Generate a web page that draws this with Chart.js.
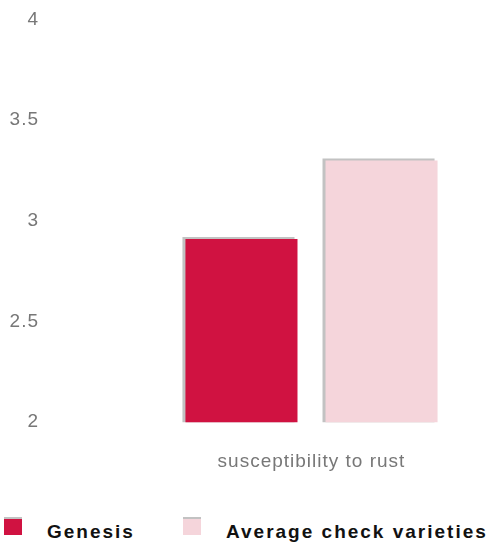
<!DOCTYPE html>
<html>
<head>
<meta charset="utf-8">
<script src="https://cdn.jsdelivr.net/npm/chart.js@4"></script>
<style>
  html, body { margin: 0; padding: 0; background: #fff; }
  #wrap { position: relative; width: 497px; height: 542px; overflow: hidden; }
  #box { position: absolute; left: 0; top: 0; width: 497px; height: 502px; }
  #legend {
    position: absolute; left: 4px; top: 517px;
    display: flex; align-items: flex-start;
    font-family: "Liberation Sans", Arial, sans-serif;
    font-weight: bold; font-size: 19px; letter-spacing: 2px; color: #111;
  }
  .item { display: flex; align-items: flex-start; min-width: 179px; }
  .swatch { width: 18px; height: 16px; border-top: 2px solid #c2c2c2; }
  .label { margin-left: 25px; margin-top: 4px; line-height: 22px; white-space: nowrap; }
</style>
</head>
<body>
<div id="wrap">
  <div id="box"><canvas id="chart"></canvas></div>
  <div id="legend"></div>
</div>
<script>
// ── data ──────────────────────────────────────────────
const categories   = ["susceptibility to rust"];
const seriesNames  = ["Genesis", "Average check varieties"];
const genesisVals  = [2.91];
const checkVals    = [3.3];
const yTicks       = [2, 2.5, 3, 3.5, 4];

const COLORS = {
  genesis: "#D01241",
  check:   "#F5D5DB",
  shadow:  "#c2c2c2",
  text:    "#777777",
};

const FONT = "'Liberation Sans', Arial, sans-serif";

// canvas text in the original is slightly spaced out
const letterSpacing = {
  id: "letterSpacing",
  beforeUpdate(chart) { chart.ctx.letterSpacing = "1px"; },
  beforeDraw(chart)   { chart.ctx.letterSpacing = "1px"; },
};

// thin grey offset edge on the top/left of each bar
const barShadow = {
  id: "barShadow",
  beforeDatasetsDraw(chart) {
    const c = chart.ctx;
    c.save();
    c.shadowColor = COLORS.shadow;
    c.shadowOffsetX = -3;
    c.shadowOffsetY = -2;
    c.shadowBlur = 0;
  },
  afterDatasetsDraw(chart) { chart.ctx.restore(); },
};

const ctx = document.getElementById("chart").getContext("2d");

const chart = new Chart(ctx, {
  type: "bar",
  data: {
    labels: categories,
    datasets: [
      { label: seriesNames[0], data: genesisVals, backgroundColor: COLORS.genesis },
      { label: seriesNames[1], data: checkVals,   backgroundColor: COLORS.check },
    ],
  },
  options: {
    responsive: true,
    maintainAspectRatio: false,
    animation: false,
    layout: { padding: { top: 19, right: 0, bottom: 1, left: 0 } },
    datasets: { bar: { categoryPercentage: 0.755, barPercentage: 0.8 } },
    plugins: {
      legend: { display: false },
      tooltip: { enabled: false },
    },
    scales: {
      x: {
        grid: { display: false, drawTicks: false },
        border: { display: false },
        ticks: {
          color: COLORS.text,
          padding: 28,
          maxRotation: 0,
          font: { family: FONT, size: 19 },
        },
      },
      y: {
        min: 2,
        max: 4,
        weight: 1,
        grid: { display: false, drawTicks: false },
        border: { display: false },
        afterBuildTicks: (s) => { s.ticks = yTicks.map((v) => ({ value: v })); },
        afterFit: (s) => { s.width = 47; },
        ticks: {
          color: COLORS.text,
          padding: 8,
          crossAlign: "near",
          font: { family: FONT, size: 19 },
          callback: (v) => String(v),
        },
      },
      // empty spacer between the value labels and the plot
      gutter: {
        type: "linear",
        position: "left",
        display: true,
        weight: 0,
        grid: { display: false, drawTicks: false },
        border: { display: false },
        ticks: { display: false },
        afterFit: (s) => { s.width = 79; },
      },
    },
  },
  plugins: [letterSpacing, barShadow],
});

// html legend built from the datasets
const legendEl = document.getElementById("legend");
chart.data.datasets.forEach((ds) => {
  const item = document.createElement("div");
  item.className = "item";
  const sw = document.createElement("div");
  sw.className = "swatch";
  sw.style.background = ds.backgroundColor;
  const lab = document.createElement("div");
  lab.className = "label";
  lab.textContent = ds.label;
  item.appendChild(sw);
  item.appendChild(lab);
  legendEl.appendChild(item);
});
</script>
</body>
</html>
